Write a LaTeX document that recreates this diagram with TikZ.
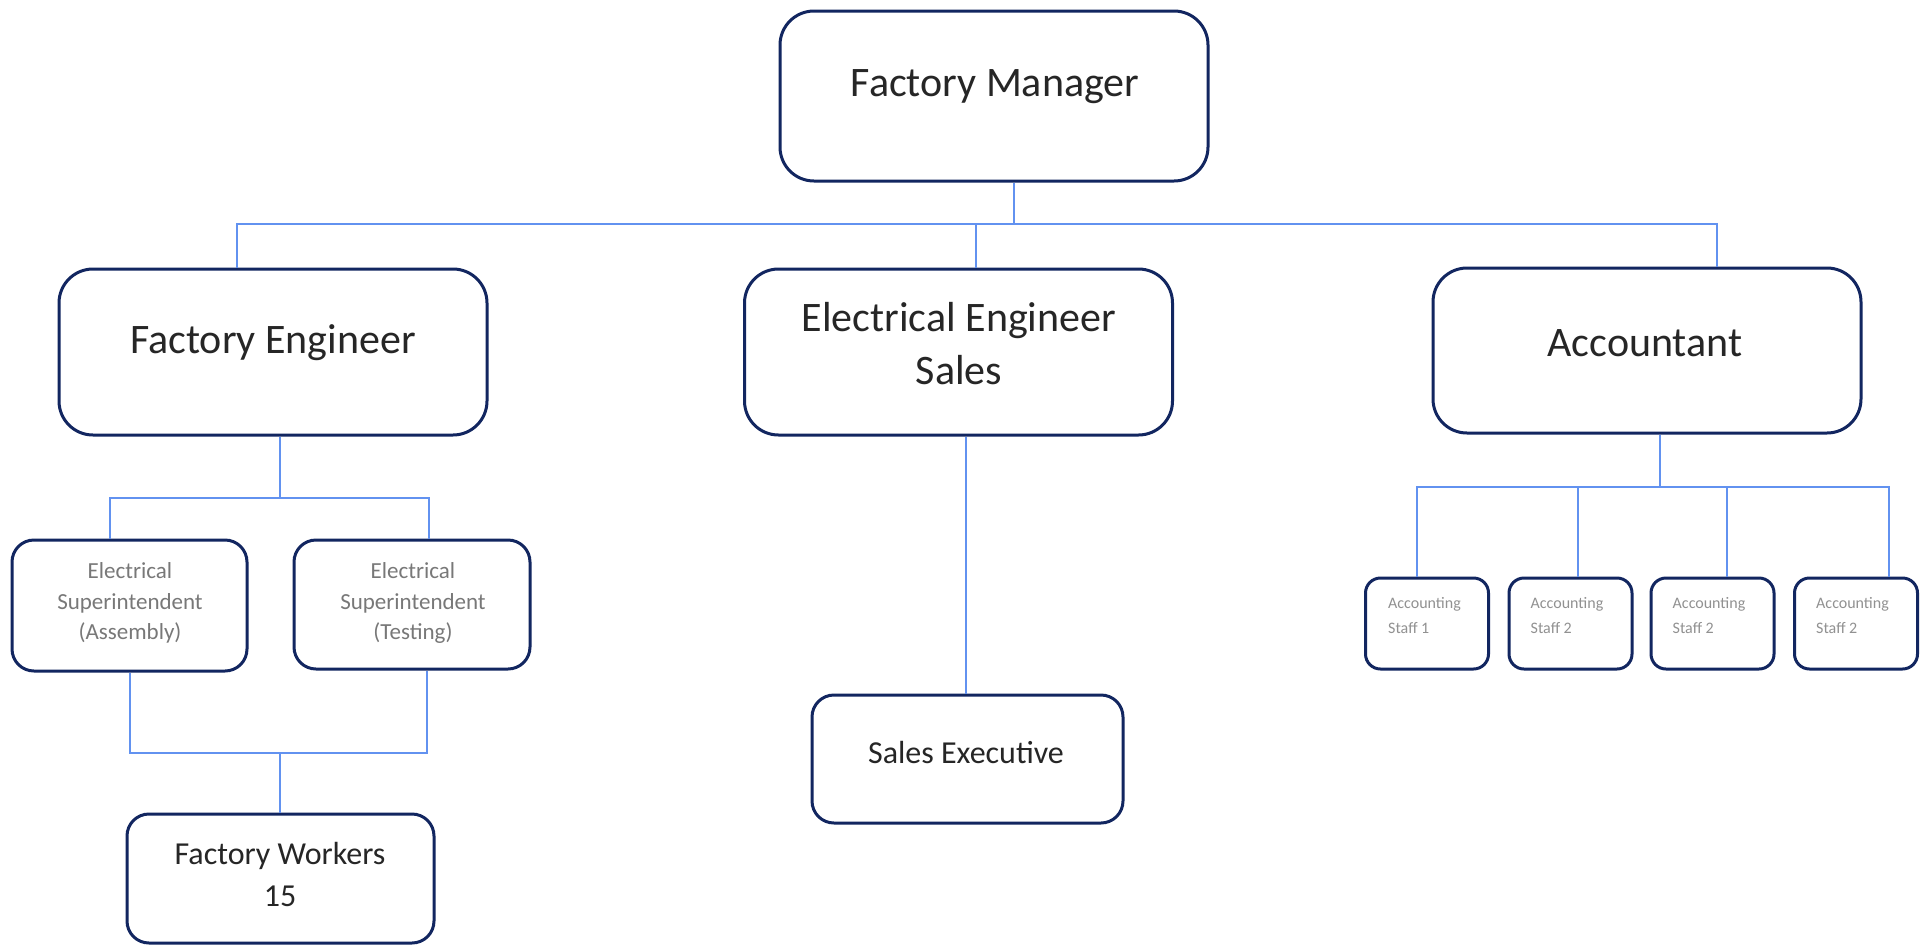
\documentclass[tikz,border=0pt]{standalone}
\usepackage{fontspec}
\setmainfont{Carlito}
\definecolor{boxc}{RGB}{18,38,96}
\definecolor{linec}{RGB}{98,146,240}
\definecolor{txtc}{RGB}{38,38,38}
\definecolor{gtxt}{RGB}{120,120,120}
\definecolor{ltxt}{RGB}{145,145,145}
\begin{document}
\begin{tikzpicture}[x=1pt,y=-1pt,
  bigbox/.style={draw=boxc, line width=3pt, rounded corners=34pt, inner sep=0pt, minimum width=428pt, minimum height=166pt},
  midbox/.style={draw=boxc, line width=3pt, rounded corners=22pt, inner sep=0pt},
  staffbox/.style={draw=boxc, line width=3pt, rounded corners=15pt, inner sep=0pt, minimum width=123pt, minimum height=91pt},
  conn/.style={draw=linec, line width=1.8pt},
  bigtxt/.style={text=txtc, inner sep=0pt, align=center, font=\fontsize{42}{53}\selectfont},
  midtxt/.style={text=txtc, inner sep=0pt, align=center, font=\fontsize{32}{42}\selectfont},
  estxt/.style={text=gtxt, inner sep=0pt, align=center, font=\fontsize{23}{30.5}\selectfont},
  stafftxt/.style={text=ltxt, inner sep=0pt, align=left, anchor=west, font=\fontsize{16}{25}\selectfont}
]
\useasboundingbox[fill=white] (0,0) rectangle (1920,946);

% boxes
\node[bigbox, minimum height=170pt] (fm) at (994,96) {};
\node[bigbox] (fe) at (273,352) {};
\node[bigbox] (ees) at (958.5,352) {};
\node[bigbox, minimum height=165pt] (acc) at (1647,350.5) {};
\node[midbox, minimum width=235pt, minimum height=131pt] (esa) at (129.5,605.5) {};
\node[midbox, minimum width=236pt, minimum height=129pt] (est) at (412,604.5) {};
\node[midbox, minimum width=307pt, minimum height=129pt] (fw) at (280.5,878.5) {};
\node[midbox, minimum width=311pt, minimum height=128pt] (se) at (967.5,759) {};
\node[staffbox] (as1) at (1427,623.5) {};
\node[staffbox] (as2) at (1570.5,623.5) {};
\node[staffbox] (as3) at (1712.5,623.5) {};
\node[staffbox] (as4) at (1856,623.5) {};

% texts
\node[bigtxt] (fm-t) at (995,87) {Factory Manager};
\node[bigtxt] (fe-t) at (273,343) {Factory Engineer};
\node[bigtxt] (ees-t) at (959,344) {Electrical Engineer\\Sales};
\node[bigtxt] (acc-t) at (1645,343) {Accountant};
\node[estxt] (esa-t) at (130,603) {Electrical\\Superintendent\\(Assembly)};
\node[estxt] (est-t) at (413,603) {Electrical\\Superintendent\\(Testing)};
\node[midtxt] (fw-t) at (280,874) {Factory Workers\\15};
\node[midtxt] (se-t) at (966,752) {Sales Executive};
\node[stafftxt] (as1-t) at ([xshift=24pt,yshift=8pt]as1.west) {Accounting\\Staff 1};
\node[stafftxt] (as2-t) at ([xshift=23pt,yshift=8pt]as2.west) {Accounting\\Staff 2};
\node[stafftxt] (as3-t) at ([xshift=23pt,yshift=8pt]as3.west) {Accounting\\Staff 2};
\node[stafftxt] (as4-t) at ([xshift=23pt,yshift=8pt]as4.west) {Accounting\\Staff 2};

% top level connectors
\coordinate (fmj) at (1014,224);
\coordinate (bl) at (237,224);
\coordinate (bm) at (976,224);
\coordinate (br) at (1717,224);
\draw[conn] (fmj |- fm.south) -- (fmj);
\draw[conn] (bl |- fe.north) -- (bl) -- (br) -- (br |- acc.north);
\draw[conn] (bm) -- (bm |- ees.north);

% factory engineer subtree
\coordinate (fej) at (280,498);
\coordinate (fel) at (110,498);
\coordinate (fer) at (429,498);
\draw[conn] (fej |- fe.south) -- (fej);
\draw[conn] (fel |- esa.north) -- (fel) -- (fer) -- (fer |- est.north);
\coordinate (wl) at (130,753);
\coordinate (wr) at (427,753);
\coordinate (wj) at (280,753);
\draw[conn] (wl |- esa.south) -- (wl) -- (wr) -- (wr |- est.south);
\draw[conn] (wj) -- (wj |- fw.north);

% sales
\coordinate (sx) at (966,600);
\draw[conn] (sx |- ees.south) -- (sx |- se.north);

% accountant subtree
\coordinate (aj) at (1660,487);
\coordinate (a1) at (1417,487);
\coordinate (a2) at (1578,487);
\coordinate (a3) at (1727,487);
\coordinate (a4) at (1889,487);
\draw[conn] (aj |- acc.south) -- (aj);
\draw[conn] (a1 |- as1.north) -- (a1) -- (a4) -- (a4 |- as4.north);
\draw[conn] (a2) -- (a2 |- as2.north);
\draw[conn] (a3) -- (a3 |- as3.north);
\end{tikzpicture}
\end{document}
